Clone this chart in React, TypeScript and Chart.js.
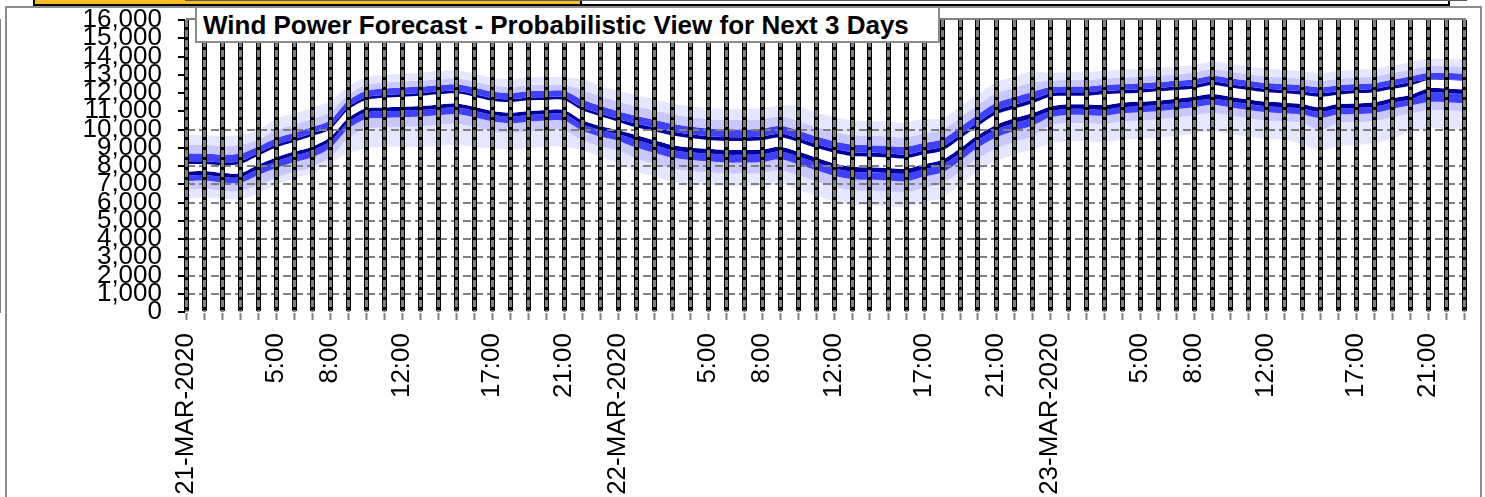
import React, { useEffect, useRef } from 'react';
import { Chart, registerables } from 'chart.js';

Chart.register(...registerables);

// ---- categories / tick labels ----
const days = ['21-MAR-2020', '22-MAR-2020', '23-MAR-2020'];
const labeledHours = [5, 8, 12, 17, 21];
const hoursPerDay = 24;

const hourLabels: string[] = [];
for (let d = 0; d < days.length; d++) {
  for (let h = 0; h < hoursPerDay; h++) {
    hourLabels.push(h === 0 ? days[d] : labeledHours.includes(h) ? `${h}:00` : '');
  }
}

// ---- y axis ----
const yMin = 0;
const yMax = 16000;
const yStep = 1000;
const dashedGridValues = [1000, 2000, 3000, 4000, 5000, 6000, 7000, 8000, 10000];

// ---- quantile band boundaries (MW), top to bottom ----
const upperOuter = [
  9700, 9700, 9640, 9700, 9940, 10570, 10870, 11190, 11560,
  12330, 12880, 13000, 13060, 13110, 13190, 13240, 13060, 12840, 12770, 12860, 12880, 12880,
  12760, 12430, 12120, 11870, 11650, 11430, 11280, 11170, 11120, 11120, 11160, 11320,
  11270, 10950, 10680, 10500, 10460, 10420, 10370, 10590,
  10590, 11250, 11940, 12580, 12890, 13180,
  13090, 13140, 13140, 13220, 13270, 13310, 13380, 13450, 13540, 13730, 13600, 13450,
  13330, 13270, 13200, 13090, 13200, 13270, 13330, 13510, 13690, 13880, 13880, 13850,
];
const upper90 = [
  9160, 9160, 9100, 9160, 9440, 9970, 10270, 10590, 10960,
  11900, 12450, 12570, 12630, 12680, 12760, 12810, 12630, 12410, 12340, 12430, 12450, 12450,
  12160, 11830, 11520, 11270, 11050, 10830, 10680, 10570, 10520, 10520, 10560, 10720,
  10470, 10150, 9880, 9700, 9660, 9620, 9570, 9790, 9990, 10650, 11340, 11980, 12290, 12580,
  12670, 12720, 12720, 12800, 12850, 12890, 12960, 13030, 13120, 13310, 13180, 13030,
  12910, 12850, 12780, 12670, 12780, 12850, 12910, 13090, 13270, 13460, 13460, 13430,
];
const upper75 = [
  8680, 8680, 8620, 8680,
  9060, 9520, 9820, 10140, 10510, 11570, 12120, 12240, 12300, 12350, 12430, 12480, 12300, 12080, 12010, 12100, 12120, 12120,
  11640, 11310, 11000, 10750, 10530, 10310, 10160, 10050, 10000, 10000, 10040, 10200, 9950, 9630, 9360, 9180, 9140, 9100,
  9050, 9270, 9470, 10130, 10820, 11460, 11770, 12060,
  12310, 12360, 12360, 12440, 12490, 12530, 12600, 12670, 12760, 12950, 12820, 12670,
  12550, 12490, 12420, 12310, 12420, 12490, 12550, 12730, 12910, 13100, 13100, 13070,
];
const upperInner = [
  8260, 8260, 8200, 8260, 8710, 9170, 9470, 9790, 10160, 11220, 11770, 11890, 11950, 12000, 12080, 12130,
  11950, 11730, 11660, 11750, 11770, 11770, 11220, 10890, 10580,
  10330, 10110, 9890, 9740, 9630, 9580, 9580, 9620, 9780, 9530, 9210, 8940, 8760, 8720, 8680, 8630,
  8850, 9050, 9710, 10400, 11040, 11350, 11640,
  11990, 12040, 12040, 12120, 12170, 12210, 12280, 12350, 12440, 12630, 12500, 12350,
  12230, 12170, 12100, 11990, 12100, 12170, 12230, 12410, 12590, 12740, 12740, 12710,
];
const centreHigh = [
  8110, 8110, 8050, 8110, 8560, 9020, 9320, 9640, 10010, 11070, 11620, 11740, 11800, 11850, 11930, 11980,
  11800, 11580, 11510, 11600, 11620, 11620, 11070, 10740, 10430,
  10120, 9900, 9680, 9530, 9420, 9370, 9370, 9410, 9570, 9320, 9000, 8730, 8550, 8510, 8470, 8420,
  8640, 8840, 9500, 10190, 10830, 11140, 11430,
  11800, 11850, 11850, 11930, 11980, 12020, 12090, 12160, 12250, 12440, 12310, 12160,
  12040, 11980, 11910, 11800, 11910, 11980, 12040, 12220, 12400, 12710, 12710, 12680,
];
const centreLow = [
  7690, 7730, 7630, 7600, 8070, 8470, 8790, 9060, 9570, 10610, 11160, 11210, 11250, 11290, 11360, 11430,
  11250, 11030, 10920, 11010, 11070, 11070, 10520, 10190, 9970,
  9700, 9420, 9150, 9020, 8950, 8880, 8880, 8910, 9060, 8790, 8470, 8150, 7960, 7930, 7890, 7850,
  8110, 8330, 8970, 9700, 10250, 10610, 10890,
  11250, 11380, 11380, 11340, 11470, 11530, 11580, 11690, 11800, 11940, 11800, 11650,
  11530, 11470, 11400, 11210, 11400, 11430, 11490, 11710, 11890, 12250, 12250, 12200,
];
const lowerInner = [
  7470, 7510, 7410, 7380, 7850, 8250, 8570, 8840, 9350, 10390, 10940, 10990, 11030, 11070, 11140, 11210,
  11030, 10810, 10700, 10790, 10850, 10850, 10300, 9970, 9750,
  9430, 9150, 8880, 8750, 8680, 8610, 8610, 8640, 8790, 8520, 8200, 7880, 7690, 7660, 7620, 7580,
  7840, 8060, 8700, 9430, 9980, 10340, 10620,
  11000, 11130, 11130, 11090, 11220, 11280, 11330, 11440, 11550, 11690, 11550, 11400,
  11280, 11220, 11150, 10960, 11150, 11180, 11240, 11460, 11640, 12000, 12000, 11950,
];
const lower25 = [
  7160, 7200, 7100, 7070,
  7490, 7890, 8210, 8480, 8990, 10030, 10580, 10630, 10670, 10710, 10780, 10850, 10670, 10450, 10340, 10430, 10490,
  10490, 9940, 9610, 9390,
  9010, 8730, 8460, 8330, 8260, 8190, 8190, 8220, 8370, 8100, 7780, 7460, 7270, 7240, 7200, 7160,
  7420, 7640, 8280, 9010, 9560, 9920, 10200,
  10670, 10800, 10800, 10760, 10890, 10950, 11000, 11110, 11220, 11360, 11220, 11070,
  10950, 10890, 10820, 10630, 10820, 10850, 10910, 11130, 11310, 11500, 11500, 11450,
];
const lower10 = [
  6710, 6750, 6650, 6620,
  6960, 7360, 7680, 7950, 8460, 9500, 10050, 10100, 10140, 10180, 10250, 10320, 10140, 9920, 9810, 9900, 9960,
  9960, 9410, 9080, 8860,
  8410, 8130, 7860, 7730, 7660, 7590, 7590, 7620, 7770, 7500, 7180, 6860, 6670, 6640, 6600, 6560,
  6820, 7040, 7680, 8410, 8960, 9320, 9600,
  10220, 10350, 10350, 10310, 10440, 10500, 10550, 10660, 10770, 10910, 10770, 10620,
  10500, 10440, 10370, 9950, 10370, 10400, 10460, 10680, 10860, 11050, 11050, 11000,
];
const lowerOuter = [
  6230, 6270, 6200, 6180, 6500, 6960, 7330, 7600, 8150, 8700, 8970, 9060, 9060, 9060, 9100, 9150,
  9060, 8970, 8910, 8970, 9060, 9060, 8880, 8510, 8150,
  7710, 7430, 7160, 7030, 6960, 6890, 6890, 6920, 7070, 6700, 6380, 6060, 5870, 5840, 5800, 5760,
  6020, 6240, 6980, 7710, 8260, 8620, 8900,
  9220, 9350, 9350, 9310, 9440, 9500, 9550, 9660, 9770, 9910, 9770, 9620,
  9500, 9440, 9200, 8850, 9100, 9150, 9250, 9500, 9860, 10050, 10050, 10000,
];

const LAVENDER = '#e6e6ff';
const LIGHT = '#c8c8ff';
const BLUE = '#4040ff';
const NAVY = '#0000a0';
const WHITE = '#ffffff';

const boundaries = [
  upperOuter, upper90, upper75, upperInner, centreHigh,
  centreLow, lowerInner, lower25, lower10, lowerOuter,
];
// fill colour between boundary i and boundary i-1
const bandFills = [null, LAVENDER, LIGHT, BLUE, NAVY, WHITE, NAVY, BLUE, LIGHT, LAVENDER];

const FONT = "'Liberation Sans', Arial, Helvetica, sans-serif";

function alignPx(p: number, w: number) {
  const half = w / 2;
  return Math.round(p - half) + half;
}

const overlayPlugin = {
  id: 'gridOverlay',
  afterDraw(chart: any) {
    const { ctx, chartArea, scales } = chart;
    const xs = scales.x;
    ctx.save();
    ctx.strokeStyle = '#808080';
    ctx.lineWidth = 3;
    ctx.setLineDash([7, 3]);
    for (let i = 0; i < xs.ticks.length; i++) {
      const px = alignPx(xs.getPixelForTick(i), 3);
      ctx.beginPath();
      ctx.moveTo(px, chartArea.top);
      ctx.lineTo(px, chartArea.bottom);
      ctx.stroke();
    }
    ctx.setLineDash([]);
    ctx.lineWidth = 2;
    ctx.beginPath();
    ctx.moveTo(chartArea.left, chartArea.top - 1);
    ctx.lineTo(chartArea.right + 2, chartArea.top - 1);
    ctx.stroke();
    ctx.restore();
  },
};

function ForecastChart() {
  const ref = useRef<HTMLCanvasElement | null>(null);
  useEffect(() => {
    if (!ref.current) return;
    const datasets = boundaries.map((data, i) => ({
      label: `b${i}`,
      data,
      borderWidth: 0,
      borderColor: 'rgba(0,0,0,0)',
      pointRadius: 0,
      pointHoverRadius: 0,
      tension: 0.3,
      fill: i === 0 ? false : '-1',
      backgroundColor: bandFills[i] || 'rgba(0,0,0,0)',
    }));
    const chart = new Chart(ref.current, {
      type: 'line',
      data: { labels: hourLabels, datasets: datasets as any },
      options: {
        animation: false,
        responsive: false,
        events: [],
        layout: { padding: { left: 0, right: 21, top: 20, bottom: 0 } },
        plugins: {
          legend: { display: false },
          tooltip: { enabled: false },
          title: { display: false },
        },
        scales: {
          x: {
            type: 'category',
            offset: false,
            grid: {
              color: '#000000',
              lineWidth: 5,
              z: 2,
              drawTicks: true,
              tickColor: '#808080',
              tickWidth: 2,
              tickLength: 8,
            },
            border: { display: true, color: '#595959', width: 2 },
            ticks: {
              autoSkip: false,
              minRotation: 90,
              maxRotation: 90,
              padding: 13,
              color: '#000000',
              font: { family: FONT, size: 26 },
              callback: (_v: any, i: number) => hourLabels[i],
            },
            afterFit: (s: any) => {
              s.height = 185;
              s.paddingLeft = 0;
              s.paddingRight = 0;
            },
          } as any,
          y: {
            min: yMin,
            max: yMax,
            grid: {
              z: 1,
              lineWidth: 2,
              color: (ctx: any) =>
                ctx.tick && dashedGridValues.includes(ctx.tick.value) ? '#808080' : 'rgba(0,0,0,0)',
              drawTicks: true,
              tickColor: '#000000',
              tickWidth: 2,
              tickLength: 8,
            },
            border: { display: true, color: '#808080', width: 2, dash: [8, 4] },
            ticks: {
              stepSize: yStep,
              autoSkip: false,
              padding: 16,
              color: '#000000',
              font: { family: FONT, size: 26 },
              callback: (v: any) => Number(v).toLocaleString('en-US'),
            },
            afterFit: (s: any) => {
              s.width = 186;
              s.paddingTop = 0;
              s.paddingBottom = 0;
            },
          } as any,
        },
      },
      plugins: [overlayPlugin],
    });
    return () => chart.destroy();
  }, []);
  return (
    <canvas
      ref={ref}
      width={1485}
      height={497}
      style={{ position: 'absolute', left: 0, top: 0, width: 1485, height: 497 }}
    />
  );
}

export default function App() {
  return (
    <div
      style={{
        position: 'fixed',
        left: 0,
        top: 0,
        width: 1485,
        height: 497,
        overflow: 'hidden',
        background: '#ffffff',
      }}
    >
      <div
        style={{
          position: 'absolute',
          left: 5,
          top: 6,
          width: 1477,
          height: 500,
          border: '2px solid #8c8c8c',
          boxSizing: 'border-box',
          background: '#ffffff',
        }}
      />
      <div
        style={{
          position: 'absolute',
          left: 33,
          top: -2,
          width: 1417,
          height: 8,
          border: '2px solid #000000',
          boxSizing: 'border-box',
          background: '#ffffff',
        }}
      />
      <div
        style={{
          position: 'absolute',
          left: 35,
          top: 0,
          width: 545,
          height: 4,
          background: '#fbbd23',
          borderRight: '2px solid #000000',
        }}
      />
      <ForecastChart />
      <div
        style={{
          position: 'absolute',
          left: 195,
          top: 6,
          width: 745,
          height: 37,
          border: '2px solid #8c8c8c',
          boxSizing: 'border-box',
          background: '#ffffff',
          fontFamily: FONT,
          fontWeight: 'bold',
          fontSize: 26,
          lineHeight: '35px',
          paddingLeft: 6,
          color: '#000000',
          whiteSpace: 'nowrap',
        }}
      >
        Wind Power Forecast - Probabilistic View for Next 3 Days
      </div>
    </div>
  );
}
